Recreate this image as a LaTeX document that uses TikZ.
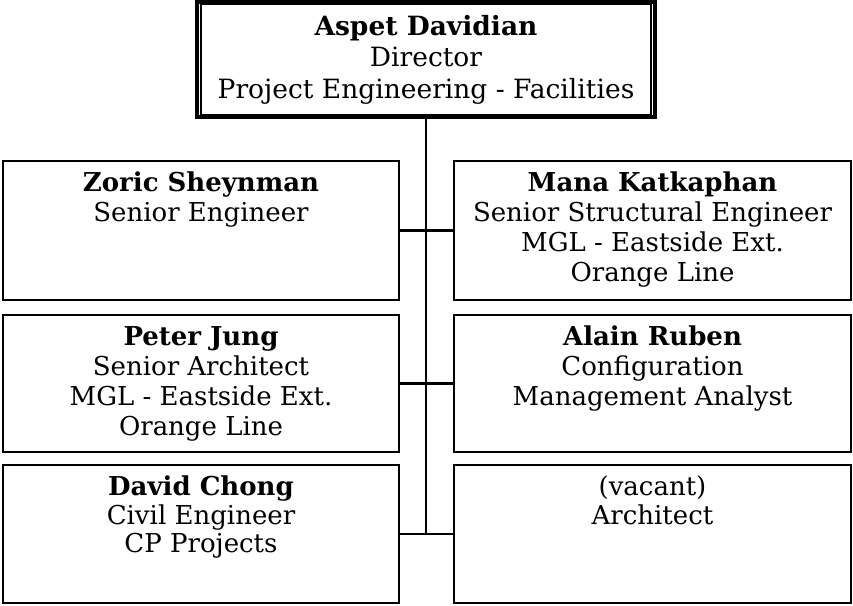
\documentclass[tikz,border=0pt]{standalone}
\usepackage{fontspec}
\setmainfont{DejaVu Serif}
\begin{document}
\begin{tikzpicture}[x=1pt,y=-1pt,
  box/.style={draw, line width=2.6pt, inner sep=0pt, minimum width=396pt},
  txt/.style={align=center, anchor=north, inner sep=0pt, font=\fontsize{26}{30}\selectfont},
  link/.style={line width=2.2pt}]
\useasboundingbox (0,0) rectangle (853,605);
% top box (double border)
\node[draw, line width=4pt, inner sep=0pt, minimum width=458pt, minimum height=115pt] (top) at (426,59.5) {};
\draw[line width=1.4pt] ([xshift=6pt,yshift=-4pt]top.north west) rectangle ([xshift=-6pt,yshift=4pt]top.south east);
\node[txt, font=\fontsize{26.5}{31.5}\selectfont] (topt) at (426,13) {\strut\textbf{Aspet Davidian}\\Director\\Project Engineering - Facilities};
% row 1
\node[box, minimum height=139pt] (zoric) at (201,230.5) {};
\node[box, minimum width=397pt, minimum height=139pt] (mana) at (652.5,230.5) {};
% row 2
\node[box, minimum height=137pt] (peter) at (201,383.5) {};
\node[box, minimum width=397pt, minimum height=137pt] (alain) at (652.5,383.5) {};
% row 3
\node[box, minimum height=138pt] (david) at (201,534) {};
\node[box, minimum width=397pt, minimum height=138pt] (vacant) at (652.5,534) {};
% texts
\node[txt] (zorict) at ([yshift=-11pt]zoric.north) {\strut\textbf{Zoric Sheynman}\\Senior Engineer};
\node[txt] (manat) at ([yshift=-11pt]mana.north) {\strut\textbf{Mana Katkaphan}\\Senior Structural Engineer\\MGL - Eastside Ext.\\Orange Line};
\node[txt] (petert) at ([yshift=-11pt]peter.north) {\strut\textbf{Peter Jung}\\Senior Architect\\MGL - Eastside Ext.\\Orange Line};
\node[txt] (alaint) at ([yshift=-11pt]alain.north) {\strut\textbf{Alain Ruben}\\Configuration\\Management Analyst};
\node[txt, font=\fontsize{26}{28.5}\selectfont] (davidt) at ([yshift=-12pt]david.north) {\strut\textbf{David Chong}\\Civil Engineer\\CP Projects};
\node[txt, font=\fontsize{26}{28.5}\selectfont] (vacantt) at ([yshift=-12pt]vacant.north) {\strut(vacant)\\Architect};
% connectors
\coordinate (j3) at (top.south |- david.east);
\draw[link] (top.south) -- (j3);
\draw[link] (zoric.east) -- (mana.west);
\draw[link] (peter.east) -- (alain.west);
\draw[link] (david.east) -- (vacant.west);
\end{tikzpicture}
\end{document}
